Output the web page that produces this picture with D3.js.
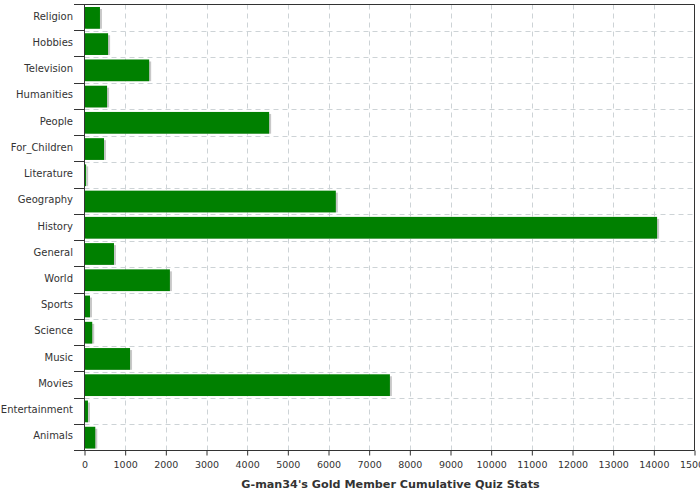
<!DOCTYPE html>
<html>
<head>
<meta charset="utf-8">
<script src="https://cdn.jsdelivr.net/npm/d3@7"></script>
<style>
body { margin: 0; background: #fff; }
text { font-family: "DejaVu Sans", sans-serif; fill: #333; }
</style>
</head>
<body>
<svg id="chart" width="700" height="500"></svg>
<script>
const categories = ["Religion", "Hobbies", "Television", "Humanities", "People", "For_Children",
  "Literature", "Geography", "History", "General", "World", "Sports", "Science", "Music",
  "Movies", "Entertainment", "Animals"];
const values = [380, 580, 1590, 555, 4540, 480, 40, 6180, 14080, 725, 2100, 135, 190, 1120, 7510, 85, 265];
const xTicks = d3.range(0, 15001, 1000);
const title = "G-man34's Gold Member Cumulative Quiz Stats";

const data = categories.map((c, i) => ({ name: c, value: values[i] }));

const mLeft = 84.5, mRight = 694.5, mTop = 4.5, mBottom = 450.5;
const svg = d3.select("#chart");

const x = d3.scaleLinear().domain([0, 15000]).range([mLeft, mRight]);
const y = d3.scaleBand().domain(categories).range([mTop, mBottom]);
const bw = y.bandwidth();

// grid
const grid = svg.append("g").attr("stroke", "#cdd3d6").attr("stroke-dasharray", "5,4");
grid.selectAll(".vg")
  .data(xTicks.slice(1, -1))
  .join("line")
  .attr("x1", d => Math.round(x(d)) + 0.5).attr("x2", d => Math.round(x(d)) + 0.5)
  .attr("y1", mTop).attr("y2", mBottom);
grid.selectAll(".hg")
  .data(categories.slice(1))
  .join("line")
  .attr("x1", mLeft).attr("x2", mRight)
  .attr("y1", d => Math.round(y(d)) + 0.5).attr("y2", d => Math.round(y(d)) + 0.5);

// shadows
svg.append("g").selectAll("rect")
  .data(data)
  .join("rect")
  .attr("x", x(0) + 2)
  .attr("y", d => y(d.name) + 4.5)
  .attr("width", d => x(d.value) - x(0))
  .attr("height", bw - 6.5)
  .attr("fill", "#c8c8c8");

// bars
svg.append("g").selectAll("rect")
  .data(data)
  .join("rect")
  .attr("x", x(0))
  .attr("y", d => y(d.name) + 2.5)
  .attr("width", d => x(d.value) - x(0))
  .attr("height", bw - 4.5)
  .attr("fill", "#008000");

// frame
const frame = svg.append("g").attr("stroke", "#333").attr("fill", "none");
frame.append("line").attr("x1", mRight).attr("x2", mRight).attr("y1", mTop).attr("y2", mBottom);
frame.append("line").attr("x1", mLeft).attr("x2", mLeft).attr("y1", mTop).attr("y2", mBottom);

// left ticks at band boundaries
const yBounds = categories.map(c => y(c)).concat([mBottom]);
frame.selectAll(".lt")
  .data(yBounds)
  .join("line")
  .attr("x1", 74)
  .attr("x2", d => d === mTop || d === mBottom ? mRight : mLeft)
  .attr("y1", d => Math.round(d - 0.5) + 0.5).attr("y2", d => Math.round(d - 0.5) + 0.5);

// category labels
svg.append("g").selectAll("text")
  .data(categories)
  .join("text")
  .attr("x", 73)
  .attr("y", d => y(d) + bw / 2 - 1.5)
  .attr("dy", "0.35em")
  .attr("text-anchor", "end")
  .attr("font-size", 10)
  .text(d => d);

// bottom axis
const xAxis = d3.axisBottom(x).tickValues(xTicks).tickSize(5).tickSizeOuter(0).tickFormat(d3.format("d"));
const gx = svg.append("g")
  .attr("transform", `translate(0,${mBottom})`)
  .call(xAxis);
gx.select(".domain").remove();
gx.selectAll(".tick line").attr("stroke", "#333");
gx.selectAll(".tick text").attr("font-size", 9.5).attr("dy", "0.95em")
  .attr("font-family", "DejaVu Sans").attr("fill", "#333");

svg.append("text")
  .attr("x", 390.5)
  .attr("y", 488)
  .attr("text-anchor", "middle")
  .attr("font-size", 11.2)
  .attr("font-weight", "bold")
  .text(title);
</script>
</body>
</html>
